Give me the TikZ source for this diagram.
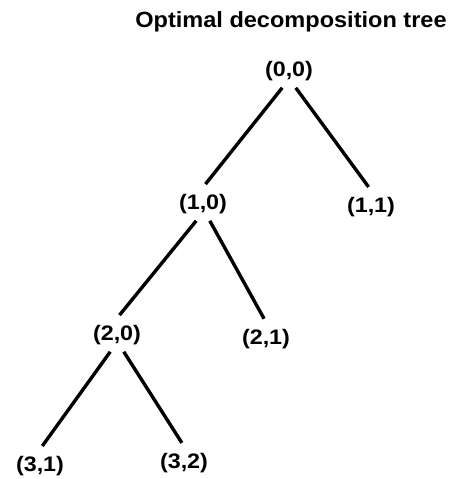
\documentclass[tikz,border=0pt]{standalone}
\usepackage{fontspec}
\setmainfont{Liberation Sans}
\begin{document}
\begin{tikzpicture}[x=1pt, y=-1pt,
    lbl/.style={font=\bfseries\fontsize{21}{25}\selectfont, xscale=1.11, inner sep=0pt, outer sep=7pt},
    ttl/.style={font=\bfseries\fontsize{22}{26}\selectfont, xscale=1.07, inner sep=0pt},
    branch/.style={line width=3.4pt, shorten >=4pt}]
\useasboundingbox (0,0) rectangle (458,479);
\node[ttl] (title) at (291,22) {Optimal decomposition tree};
% tree nodes
\node[lbl] (n00) at (289,71) {(0,0)};
\node[lbl] (n10) at (203,204) {(1,0)};
\node[lbl] (n11) at (371,207) {(1,1)};
\node[lbl] (n20) at (117,335) {(2,0)};
\node[lbl] (n21) at (266,339) {(2,1)};
\node[lbl] (n31) at (40,466) {(3,1)};
\node[lbl] (n32) at (184,463) {(3,2)};
% branches
\draw[branch] (n00.-110) -- (n10.north);
\draw[branch] (n00.-70) -- (n11.north);
\draw[branch] (n10.-110) -- (n20.north);
\draw[branch] (n10.-70) -- (n21.north);
\draw[branch] (n20.-110) -- (n31.north);
\draw[branch] (n20.-70) -- (n32.north);
\end{tikzpicture}
\end{document}
